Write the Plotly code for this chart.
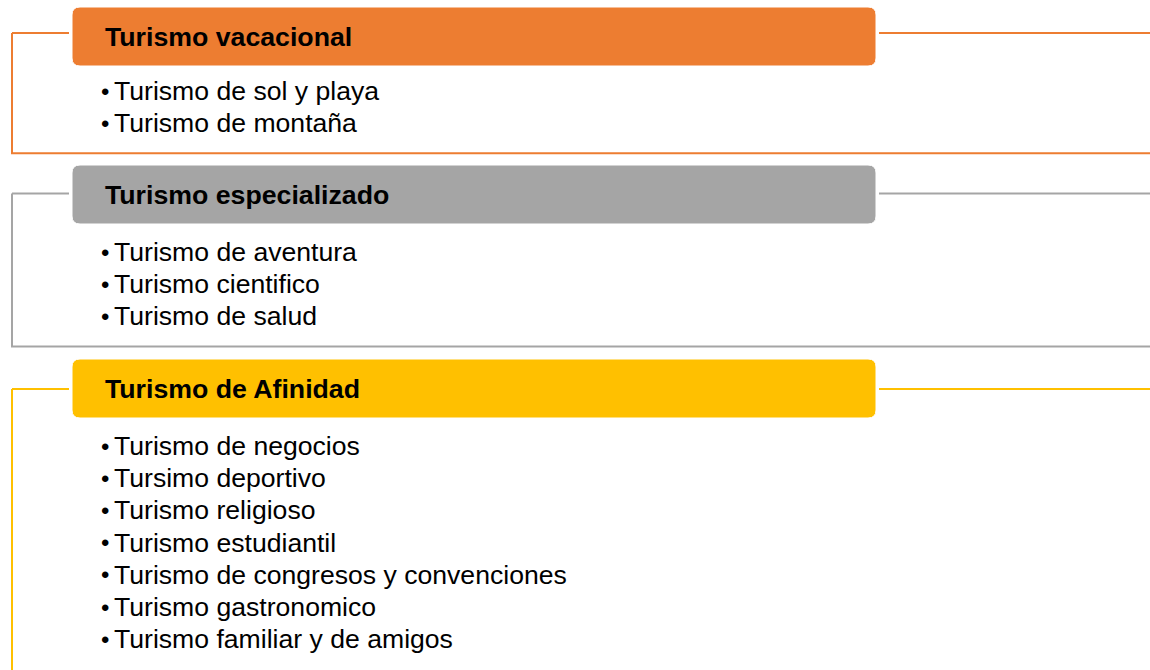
"""
Tipos de turismo: three bracketed groups with a coloured header bar and a bullet list
"""
import plotly.graph_objects as go

# data
section_titles = ["Turismo vacacional", "Turismo especializado", "Turismo de Afinidad"]
section_items = [
    ["Turismo de sol y playa", "Turismo de montaña"],
    ["Turismo de aventura", "Turismo cientifico", "Turismo de salud"],
    ["Turismo de negocios", "Tursimo deportivo", "Turismo religioso",
     "Turismo estudiantil", "Turismo de congresos y convenciones",
     "Turismo gastronomico", "Turismo familiar y de amigos"],
]

# style / layout
section_colors = ["#ED7D31", "#A5A5A5", "#FFC000"]
W, H = 1150, 670
FONT = "Arial, Liberation Sans, sans-serif"
section_tops = [7, 165, 359]
connector_y = [33, 193.5, 389]
first_gap = [25, 28, 28]   # header bottom -> first bullet line
header_h = 59
box_x0, box_x1 = 72, 876
bracket_x = 12
step = 32.2


def rounded_rect(x0, y0, x1, y1, r):
    return (f"M {x0 + r},{y0} L {x1 - r},{y0} Q {x1},{y0} {x1},{y0 + r} "
            f"L {x1},{y1 - r} Q {x1},{y1} {x1 - r},{y1} "
            f"L {x0 + r},{y1} Q {x0},{y1} {x0},{y1 - r} "
            f"L {x0},{y0 + r} Q {x0},{y0} {x0 + r},{y0} Z")


fig = go.Figure()
shapes = []
annotations = []

for i, (title, items, color) in enumerate(zip(section_titles, section_items, section_colors)):
    top = section_tops[i]
    cy = connector_y[i]
    # header bar
    shapes.append(dict(type="path", path=rounded_rect(box_x0, top, box_x1, top + header_h, 8),
                       fillcolor=color, line=dict(color="white", width=1), layer="above"))
    annotations.append(dict(x=103, y=top + header_h / 2, text=f"<b>{title}</b>", showarrow=False,
                            xanchor="left", yanchor="middle",
                            font=dict(family=FONT, size=26.7, color="black")))
    # connectors either side of the header
    shapes.append(dict(type="line", x0=bracket_x, x1=69, y0=cy, y1=cy,
                       line=dict(color=color, width=2)))
    shapes.append(dict(type="line", x0=879, x1=W, y0=cy, y1=cy,
                       line=dict(color=color, width=2)))

    first = top + header_h + first_gap[i]
    for j, item in enumerate(items):
        y = first + j * step
        annotations.append(dict(x=105, y=y, text="•", showarrow=False,
                                xanchor="center", yanchor="middle",
                                font=dict(family=FONT, size=24, color="black")))
        annotations.append(dict(x=111.5, y=y, text=item, showarrow=False,
                                xanchor="left", yanchor="middle",
                                font=dict(family=FONT, size=26.6, color="black")))
    last = first + (len(items) - 1) * step
    bottom = last + 30 if i < len(section_titles) - 1 else H + 5
    # bracket: vertical on the left, bottom rule across
    shapes.append(dict(type="line", x0=bracket_x, x1=bracket_x, y0=cy, y1=bottom,
                       line=dict(color=color, width=2)))
    if i < len(section_titles) - 1:
        shapes.append(dict(type="line", x0=bracket_x - 1, x1=W, y0=bottom, y1=bottom,
                           line=dict(color=color, width=2)))

fig.update_layout(
    width=W, height=H,
    margin=dict(l=0, r=0, t=0, b=0),
    paper_bgcolor="white", plot_bgcolor="white",
    xaxis=dict(range=[0, W], visible=False, fixedrange=True),
    yaxis=dict(range=[H, 0], visible=False, fixedrange=True),
    shapes=shapes,
    annotations=annotations,
    showlegend=False,
)

fig.write_html("out.html", config={"displayModeBar": False},
               post_script="document.body.style.margin='0';")
